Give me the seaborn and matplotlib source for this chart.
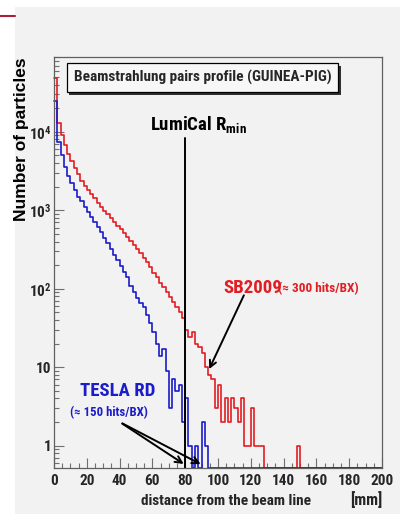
import numpy as np
import pandas as pd
import matplotlib
matplotlib.use("Agg")
import matplotlib.pyplot as plt
import seaborn as sns
from matplotlib import font_manager
from matplotlib.patches import Rectangle
from matplotlib.lines import Line2D
from matplotlib.ticker import FixedLocator, FixedFormatter, MultipleLocator, NullFormatter

# 2 mm bins from 0 to 200 mm
bin_edges = list(range(0, 201, 2))

# SB2009 (red), counts per bin
sb2009 = [49000, 13000, 9000, 6800, 5300, 4300, 3500, 2900, 2400, 2050,
          1800, 1600, 1420, 1250, 1100, 990, 890, 800, 720, 640,
          570, 510, 460, 410, 365, 325, 290, 250, 220, 190,
          160, 140, 120, 104, 90, 78, 68, 58, 50, 42,
          30, 24, 28, 20, 18, 15, 10, 8, 7, 3,
          6, 2, 4, 2, 4, 3, 2, 4, 1, 1,
          3, 1, 1, 1, 0, 0, 0, 0, 0, 0,
          0, 0, 0, 0, 1, 0, 0, 0, 0, 0,
          0, 0, 0, 0, 0, 0, 0, 0, 0, 0,
          0, 0, 0, 0, 0, 0, 0, 0, 0, 0]

# TESLA RD (blue), counts per bin
tesla = [25000, 7400, 5000, 3600, 2700, 2200, 1800, 1500, 1300, 1100,
         960, 830, 720, 620, 530, 450, 380, 320, 270, 230,
         195, 165, 140, 110, 92, 76, 65, 58, 46, 37,
         28, 20, 14, 17, 9, 3, 7, 5, 6, 2,
         4, 1, 0, 1, 0, 2, 1, 0, 0, 0,
         0, 0, 0, 0, 0, 0, 0, 0, 0, 0,
         0, 0, 0, 0, 0, 0, 0, 0, 0, 0,
         0, 0, 0, 0, 0, 0, 0, 0, 0, 0,
         0, 0, 0, 0, 0, 0, 0, 0, 0, 0,
         0, 0, 0, 0, 0, 0, 0, 0, 0, 0]

y_ticks = [1, 10, 100, 1000, 10000]
y_ticklabels = ["1", "10", "10$^{2}$", "10$^{3}$", "10$^{4}$"]
lumical_rmin = 80

sns.set_theme(style="ticks")
# ROOT's condensed Helvetica: take a narrow face if one is there
installed = {f.name for f in font_manager.fontManager.ttflist}
narrow = [n for n in ["Liberation Sans Narrow", "Roboto Condensed", "DejaVu Sans Condensed",
                      "Open Sans Condensed"] if n in installed]
FONT = narrow + ["Liberation Sans", "DejaVu Sans"]
plt.rcParams["font.family"] = FONT
plt.rcParams["font.weight"] = "bold"
plt.rcParams["mathtext.default"] = "regular"
k = 1.0 if narrow else 0.85

RED = "#e01e24"
BLUE = "#1c1cc8"
BG = "#f2f2f2"
YMIN, YMAX = 0.52, 9.0e4

fig = plt.figure(figsize=(4.07, 5.14), dpi=100, facecolor="white")
fig.patches.append(Rectangle((15 / 407, 0), 385 / 407, 1 - 7 / 514,
                             transform=fig.transFigure, facecolor=BG,
                             edgecolor="none", zorder=-10))
fig.lines.append(Line2D([0, 15 / 407], [1 - 15.5 / 514] * 2, transform=fig.transFigure,
                        color="#a8203a", lw=1.5))

ax = fig.add_axes([54 / 407, 1 - 468 / 514, 328 / 407, 411 / 514])
ax.set_facecolor(BG)

centers = [(a + b) / 2 for a, b in zip(bin_edges[:-1], bin_edges[1:])]
for counts, col in [(sb2009, RED), (tesla, BLUE)]:
    df = pd.DataFrame({"mm": centers, "n": np.maximum(np.array(counts, dtype=float), YMIN)})
    sns.histplot(data=df, x="mm", weights="n", bins=bin_edges, element="step",
                 fill=False, color=col, linewidth=1.2, ax=ax, clip_on=False)

ax.set_yscale("log")
ax.set_xlim(0, 200)
ax.set_ylim(YMIN, YMAX)

ax.yaxis.set_major_locator(FixedLocator(y_ticks))
ax.yaxis.set_major_formatter(FixedFormatter(y_ticklabels))
ax.yaxis.set_minor_formatter(NullFormatter())
ax.xaxis.set_major_locator(MultipleLocator(20))
ax.xaxis.set_minor_locator(MultipleLocator(5))
ax.tick_params(axis="both", which="both", direction="in", color="#707070",
               labelsize=11 * k, pad=4)
ax.tick_params(which="major", length=7, width=0.8)
ax.tick_params(which="minor", length=3.5, width=0.8)
ax.tick_params(axis="y", pad=2)
for lab in ax.get_xticklabels() + ax.get_yticklabels():
    lab.set_fontweight("bold")
for s in ax.spines.values():
    s.set_color("#606060")
    s.set_linewidth(0.9)
ax.set_xlabel("")
ax.set_ylabel("")

# LumiCal Rmin
ax.plot([lumical_rmin, lumical_rmin], [YMIN, 8400], color="black", lw=1.4)
ax.text(88, 10600, "LumiCal R$_{min}$", ha="center", va="baseline",
        fontsize=13.5 * k, fontweight="bold", color="black")

# title box with shadow
ax.add_patch(Rectangle((0.047, 0.908), 0.827, 0.07, transform=ax.transAxes,
                       facecolor="#303030", edgecolor="none", zorder=4))
ax.add_patch(Rectangle((0.0396, 0.915), 0.827, 0.07, transform=ax.transAxes,
                       facecolor="#f7f7f7", edgecolor="black", lw=0.9, zorder=5))
ax.text(0.453, 0.95, "Beamstrahlung pairs profile (GUINEA-PIG)", transform=ax.transAxes,
        ha="center", va="center", fontsize=11 * k, fontweight="bold", zorder=6)

ax.text(103, 89, "SB2009", color=RED, fontsize=13.5 * k, fontweight="bold", ha="left", va="baseline")
ax.text(136.5, 92, "(\u2248 300 hits/BX)", color=RED, fontsize=9.5 * k, fontweight="bold",
        ha="left", va="baseline")
ax.annotate("", xy=(93.9, 8.8), xytext=(116.5, 89),
            arrowprops=dict(arrowstyle="->", color="black", lw=1.4, mutation_scale=12))

ax.text(16, 4.3, "TESLA RD", color=BLUE, fontsize=13.5 * k, fontweight="bold", ha="left", va="baseline")
ax.text(10, 2.4, "(\u2248 150 hits/BX)", color=BLUE, fontsize=9.2 * k, fontweight="bold",
        ha="left", va="baseline")
for end_x in [80.5, 90.9]:
    ax.annotate("", xy=(end_x, 0.56), xytext=(40.2, 2.0),
                arrowprops=dict(arrowstyle="->", color="black", lw=1.4, mutation_scale=12))

fig.text(226 / 407, 1 - 505 / 514, "distance from the beam line", ha="center", va="baseline",
         fontsize=11 * k, fontweight="bold")
fig.text(382 / 407, 1 - 505 / 514, "[mm]", ha="right", va="baseline",
         fontsize=11.5 * k, fontweight="bold")
fig.text(22 / 407, 1 - 57 / 514, "Number of particles", rotation=90, ha="center", va="top",
         fontsize=12.5, fontweight="bold", color="black",
         family=["Liberation Sans", "DejaVu Sans"])

fig.savefig("out.png", dpi=100, facecolor="white")
